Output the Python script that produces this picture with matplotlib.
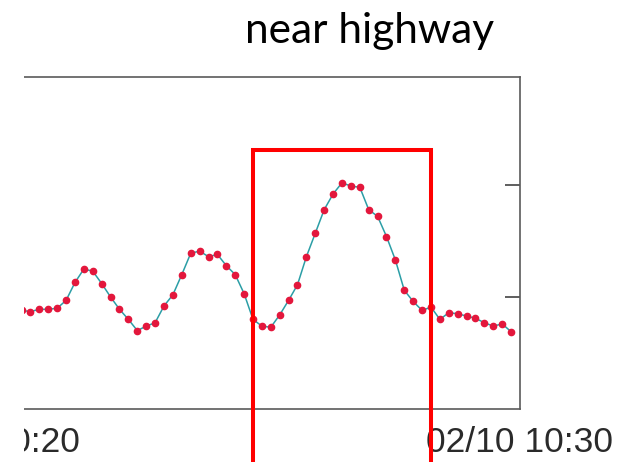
import datetime as dt

import matplotlib
matplotlib.use("Agg")
import matplotlib.pyplot as plt
import matplotlib.dates as mdates
from matplotlib.patches import Rectangle

# Sensor readings every 10 s, 02/10 from 10:20:40 onward (relative units)
start_time = dt.datetime(2014, 2, 10, 10, 20, 40)
step_seconds = 10
readings = [
    0.88, 0.87, 0.89, 0.89, 0.90, 0.97, 1.13, 1.25, 1.23, 1.12, 1.00,
    0.89, 0.80, 0.70, 0.74, 0.77, 0.92, 1.02, 1.20, 1.39, 1.41,
    1.36, 1.38, 1.28, 1.20, 1.03, 0.80, 0.74, 0.73, 0.84, 0.97,
    1.11, 1.36, 1.57, 1.78, 1.92, 2.02, 1.99, 1.98, 1.78, 1.72,
    1.54, 1.33, 1.06, 0.96, 0.88, 0.91, 0.80, 0.86, 0.85, 0.83,
    0.81, 0.77, 0.74, 0.76, 0.69,
]
times = [start_time + dt.timedelta(seconds=step_seconds * i) for i in range(len(readings))]

y_ticks = [1, 2]
title_text = "near highway"

W, H, DPI = 625, 462, 100
fig = plt.figure(figsize=(W / DPI, H / DPI), dpi=DPI)
fig.patch.set_facecolor("white")

# plot frame in pixel terms
ax_left_px, ax_right_px, ax_top_px, ax_bottom_px = -50, 520, 77, 409
ax = fig.add_axes([ax_left_px / W, 1 - ax_bottom_px / H,
                   (ax_right_px - ax_left_px) / W, (ax_bottom_px - ax_top_px) / H])

ax.plot(times, readings, color="#2b9ea6", lw=1.1, zorder=2)
ax.plot(times, readings, ls="none", marker="o", ms=4.5,
        mfc="#e3173c", mec="#e3173c", zorder=3)

# time axis: 10 minutes spans about 534 px
t_right = dt.datetime(2014, 2, 10, 10, 30, 0)
px_per_sec = 534 / 600
t_left = t_right - dt.timedelta(seconds=(ax_right_px - ax_left_px) / px_per_sec)
ax.set_xlim(t_left, t_right)
ax.set_ylim(0, (ax_bottom_px - ax_top_px) / 112)

ax.xaxis.set_major_locator(mdates.MinuteLocator(byminute=[20, 30]))
ax.xaxis.set_major_formatter(mdates.DateFormatter("%m/%d %H:%M"))
ax.tick_params(axis="x", length=0, pad=12.5, labelsize=25.5, labelcolor="#2a2a2a")
for lab in ax.get_xticklabels():
    lab.set_fontfamily("Liberation Sans")

ax.set_yticks(y_ticks)
ax.yaxis.tick_right()
ax.tick_params(axis="y", direction="in", length=10.5, width=1.1, color="#333333",
               labelright=False, labelleft=False, left=False)

for side in ("top", "right", "bottom"):
    ax.spines[side].set_color("#5a5a5a")
    ax.spines[side].set_linewidth(1.2)
ax.spines["left"].set_visible(False)

# white margin on the left edge
fig.add_artist(Rectangle((0, 0), 24 / W, 1, transform=fig.transFigure,
                         facecolor="white", edgecolor="none", zorder=20))

# highlight box around the main peak
fig.add_artist(Rectangle((253 / W, -0.1), (431 - 253) / W, 0.1 + (1 - 150 / H),
                         transform=fig.transFigure, facecolor="none",
                         edgecolor="#ff0000", lw=2.9, zorder=25, clip_on=False))

fig.text(370 / W, 1 - 43 / H, title_text, ha="center", va="baseline",
         fontsize=30.5, family="Lato", color="black")

fig.savefig("out.png", dpi=DPI)
